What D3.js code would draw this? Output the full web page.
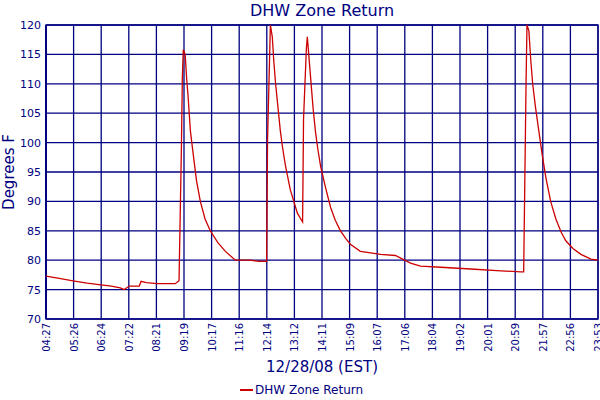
<!DOCTYPE html>
<html><head><meta charset="utf-8">
<script src="https://cdn.jsdelivr.net/npm/d3@7"></script>
<style>body{margin:0;background:#fff}text{font-family:"DejaVu Sans",Verdana,sans-serif;fill:#000080}</style>
</head><body><svg id="c" width="600" height="400"></svg>
<script>
// minutes after midnight, degrees F
const times = [267,295,324,354,383,405,424,432,443,464,468,479,502,520,540,548,553,555,557,561,564,567,572,578,585,593,603,614,630,646,667,699,716,733,735,741,745,748,752,757,762,767,773,783,798,809,811,817,819,822,826,831,836,841,847,857,868,878,889,900,910,931,974,1005,1037,1058,1101,1164,1228,1270,1276,1281,1283,1287,1291,1295,1301,1308,1315,1323,1333,1344,1355,1365,1380,1397,1418,1433];
const temps = [77.3,76.9,76.5,76.1,75.8,75.6,75.3,75.0,75.6,75.6,76.4,76.2,76.0,76.0,76.0,76.5,99,111,115.8,115,111,108,102,98,93.5,90,87,85,83,81.5,80,80,79.8,79.8,100.5,120,118,114,110,106,102,99,96,92,88,86.5,104,116,118,115,111,106,102,99,96,92.5,89,86.8,85,83.7,82.7,81.5,81,80.8,79.5,79,78.8,78.5,78.2,78,78,110,120,119,114,110,106,102,98,94,90,87,84.8,83.3,82,81,80.2,80];
const tickLabels = ["04:27","05:26","06:24","07:22","08:21","09:19","10:17","11:16","12:14","13:12","14:11","15:09","16:07","17:06","18:04","19:02","20:01","20:59","21:57","22:56","23:53"];
const yTicks = [70,75,80,85,90,95,100,105,110,115,120];

const svg = d3.select("#c");
const L=46, R=598, T=25, B=319;
const x = d3.scaleLinear().domain([267,1433]).range([L,R]);
const y = d3.scaleLinear().domain([70,120]).range([B,T]);
const navy = "#000080";

const xt = tickLabels.map((d,i)=>267+i*(1433-267)/(tickLabels.length-1));
svg.append("g").selectAll("line").data(xt).join("line")
  .attr("x1",d=>x(d)).attr("x2",d=>x(d)).attr("y1",T).attr("y2",B)
  .attr("stroke",navy).attr("stroke-width",1.3);
svg.append("g").selectAll("line").data(yTicks).join("line")
  .attr("x1",L).attr("x2",R).attr("y1",d=>y(d)).attr("y2",d=>y(d))
  .attr("stroke",navy).attr("stroke-width",1.3);
svg.append("rect").attr("x",L).attr("y",T).attr("width",R-L).attr("height",B-T)
  .attr("fill","none").attr("stroke",navy).attr("stroke-width",1.3);
svg.append("line").attr("x1",L).attr("x2",L).attr("y1",T).attr("y2",B).attr("stroke",navy).attr("stroke-width",2);

svg.append("g").selectAll("text").data(yTicks).join("text")
  .attr("x",L-5).attr("y",d=>y(d)+4).attr("text-anchor","end").attr("font-size",11).text(d=>d);
svg.append("g").selectAll("text").data(xt).join("text")
  .attr("transform",(d)=>`translate(${x(d)+4},${B+4}) rotate(-90)`)
  .attr("text-anchor","end").attr("font-size",10).text((d,i)=>tickLabels[i]);

const data = times.map((t,i)=>[t,temps[i]]);
svg.append("path").datum(data)
  .attr("d",d3.line().x(d=>x(d[0])).y(d=>y(d[1])))
  .attr("fill","none").attr("stroke","#cc0000").attr("stroke-width",1.3);

svg.append("text").attr("x",322).attr("y",16).attr("text-anchor","middle").attr("font-size",16).text("DHW Zone Return");
svg.append("text").attr("x",322).attr("y",372).attr("text-anchor","middle").attr("font-size",15).text("12/28/08 (EST)");
svg.append("text").attr("transform","translate(14,172) rotate(-90)").attr("text-anchor","middle").attr("font-size",15).text("Degrees F");
svg.append("line").attr("x1",240).attr("x2",253).attr("y1",390).attr("y2",390).attr("stroke","#cc0000").attr("stroke-width",2);
svg.append("text").attr("x",255).attr("y",394).attr("font-size",12).text("DHW Zone Return");
</script></body></html>
